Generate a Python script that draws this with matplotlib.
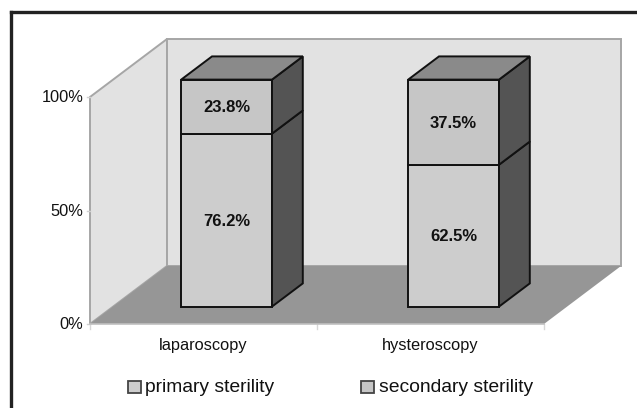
import matplotlib
matplotlib.use("Agg")
import matplotlib.pyplot as plt
from matplotlib.patches import Polygon, Rectangle

plt.rcParams['font.family'] = ['Liberation Sans', 'DejaVu Sans']

categories = ['laparoscopy', 'hysteroscopy']
primary = [76.2, 62.5]
secondary = [23.8, 37.5]
series_names = ['primary sterility', 'secondary sterility']
y_ticks = [0, 50, 100]

W, H = 637, 408
fig = plt.figure(figsize=(W / 100, H / 100), dpi=100, facecolor='white')

# overall frame (open on right and bottom, cropped in the source)
bg = fig.add_axes([0, 0, 1, 1])
bg.set_xlim(0, W); bg.set_ylim(H, 0); bg.axis('off')
bg.plot([11, 11], [H, 11.5], color='#222222', lw=2.4, solid_capstyle='projecting')
bg.plot([11, W], [11.5, 11.5], color='#222222', lw=2.4)

# front-plane axes
L, R, T, B = 90, 544, 97, 324
ax = fig.add_axes([L / W, 1 - B / H, (R - L) / W, (B - T) / H])
ax.set_xlim(0, len(categories)); ax.set_ylim(0, 100)
ax.axis('off')

DX = 77 / ((R - L) / len(categories))   # depth in category units
DY = 58 / ((B - T) / 100)               # depth in value units
BAR_W = 0.4
GAP, BAR_D = 0.3, 0.4


def poly(pts, fc, ec, lw, z):
    ax.add_patch(Polygon(pts, closed=True, fc=fc, ec=ec, lw=lw, zorder=z,
                         clip_on=False, joinstyle='miter'))


n = len(categories)
grid = '#a6a6a6'
poly([(0, 0), (DX, DY), (DX, 100 + DY), (0, 100)], '#e2e2e2', grid, 1.4, 1)
poly([(DX, DY), (n + DX, DY), (n + DX, 100 + DY), (DX, 100 + DY)], '#e2e2e2', grid, 1.4, 1)
poly([(0, 0), (n, 0), (n + DX, DY), (DX, DY)], '#969696', 'none', 0, 2)

# ticks
for t in y_ticks:
    ax.plot([-0.012, 0], [t, t], color='#d0d0d0', lw=1, clip_on=False, zorder=1)
    ax.text(-0.03, t - 0.3, f'{t}%', ha='right', va='center', fontsize=11.8, color='#111111')
for i in range(n + 1):
    ax.plot([i, i], [0, -2], color='#d8d8d8', lw=1, clip_on=False, zorder=1)
ax.plot([0, n], [0, 0], color='#c0c0c0', lw=1.2, zorder=2, clip_on=False)
for i, c in enumerate(categories):
    ax.text(i + 0.5, -9.3, c, ha='center', va='center', fontsize=11.8, color='#111111')

# 3-D stacked bars
edge = '#111111'
for i in range(n):
    x0 = i + 0.5 + GAP * DX - BAR_W / 2
    x1 = x0 + BAR_W
    y0 = GAP * DY
    dx, dy = BAR_D * DX, BAR_D * DY
    base = y0
    for vals, fc in ((primary, '#cdcdcd'), (secondary, '#c6c6c6')):
        v = vals[i]
        top = base + v
        poly([(x0, base), (x1, base), (x1, top), (x0, top)], fc, edge, 1.4, 5)
        poly([(x1, base), (x1 + dx, base + dy), (x1 + dx, top + dy), (x1, top)], '#545454', edge, 1.4, 5)
        ax.text((x0 + x1) / 2, base + v / 2 - 0.4, f'{v}%',
                ha='center', va='center', fontsize=12, fontweight='bold', color='#111111', zorder=7)
        base = top
    poly([(x0, base), (x1, base), (x1 + dx, base + dy), (x0 + dx, base + dy)], '#8a8a8a', edge, 1.4, 5)

# legend
for x, name, fc, tx in ((128, series_names[0], '#cdcdcd', 145), (361, series_names[1], '#c6c6c6', 379)):
    bg.add_patch(Rectangle((x, 381), 12.5, 12, fc=fc, ec='#444444', lw=1.3))
    bg.text(tx, 388, name, ha='left', va='center', fontsize=13.9, color='#111111')

fig.savefig('out.png', dpi=100, facecolor='white')
